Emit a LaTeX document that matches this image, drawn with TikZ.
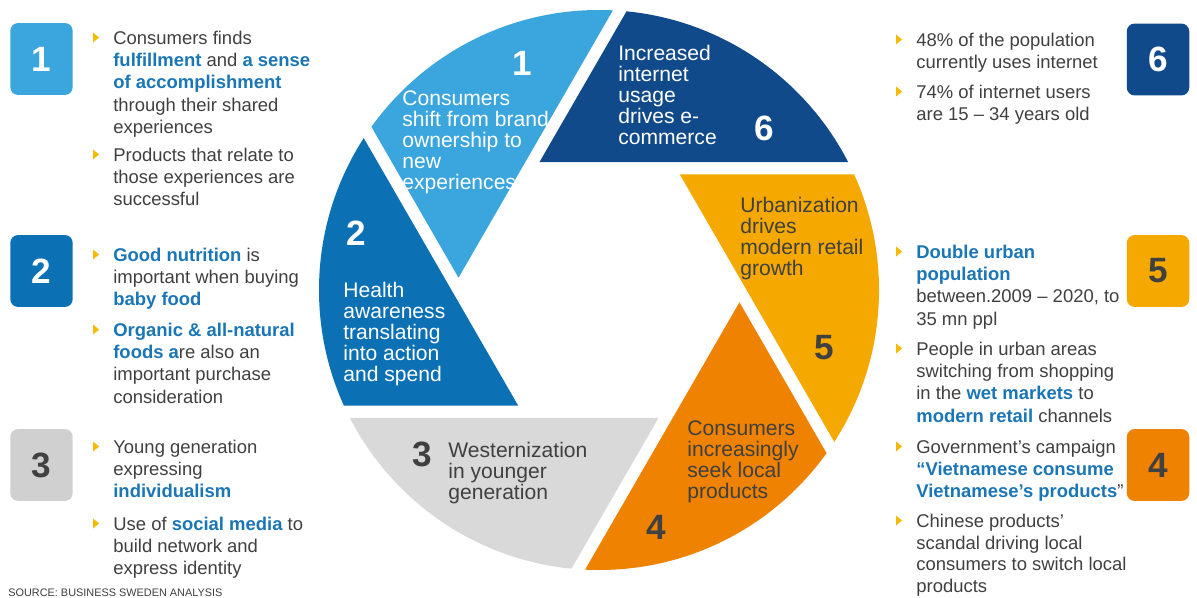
\documentclass[tikz,border=0pt]{standalone}
\usepackage{fontspec}
\setmainfont{Liberation Sans}
\usepackage{tikz}
\definecolor{skyblue}{RGB}{58,166,221}
\definecolor{midblue}{RGB}{12,112,181}
\definecolor{navyblue}{RGB}{16,74,139}
\definecolor{sunyellow}{RGB}{245,169,0}
\definecolor{deeporange}{RGB}{239,130,0}
\definecolor{paleGrey}{RGB}{217,217,217}
\definecolor{boxgrey}{RGB}{208,208,208}
\definecolor{txtgrey}{RGB}{64,64,64}
\definecolor{hiblue}{RGB}{27,118,181}
\definecolor{tickyellow}{RGB}{247,185,0}
\newcommand{\hlt}[1]{\textbf{\textcolor{hiblue}{#1}}}

\begin{document}
\begin{tikzpicture}[x=0.02cm,y=-0.02cm,
	numbox/.style={fill=#1, rounded corners=0.16cm, minimum width=1.25cm, minimum height=1.44cm, inner sep=0pt, text=white, font=\fontsize{20}{20}\selectfont\bfseries},
	btxt/.style={anchor=north west, align=left, inner sep=0pt, text=txtgrey, font=\fontsize{10.5}{12.6}\selectfont},
	wtxt/.style={anchor=north west, align=left, inner sep=0pt, font=\fontsize{12}{12}\selectfont},
	wnum/.style={inner sep=0pt, font=\fontsize{20}{20}\selectfont\bfseries}]
	\useasboundingbox (0,0) rectangle (1197,598);
	\fill[white] (0,0) rectangle (1197,598);
	% shutter blades
	\begin{scope}[shift={(599,290)}, y=0.02cm]
		\clip (0,0) circle (280);
		\foreach \a/\c in {115/navyblue, 55/sunyellow, -5/deeporange, -65/paleGrey, -125/midblue, 175/skyblue}
			\fill[\c] (\a:141) -- +({\a-115}:700) -- +({\a-55}:700) -- cycle;
	\end{scope}
	\node[wtxt, text=white] (w1) at (402,90) {Consumers\\ shift from brand\\ ownership to\\ new\\ experiences};
	\node[wnum, text=white] (n1) at (522,63) {1};
	\node[wtxt, text=white] (w2) at (343,282) {Health\\ awareness\\ translating\\ into action\\ and spend};
	\node[wnum, text=white] (n2) at (356,233) {2};
	\node[wtxt, text=txtgrey] (w3) at (448,442) {Westernization\\ in younger\\ generation};
	\node[wnum, text=txtgrey] (n3) at (422,454) {3};
	\node[wtxt, text=txtgrey] (w4) at (687,420) {Consumers\\ increasingly\\ seek local\\ products};
	\node[wnum, text=txtgrey] (n4) at (656,527) {4};
	\node[wtxt, text=txtgrey] (w5) at (740,197) {Urbanization\\ drives\\ modern retail\\ growth};
	\node[wnum, text=txtgrey] (n5) at (824,348) {5};
	\node[wtxt, text=white] (w6) at (618,45) {Increased\\ internet\\ usage\\ drives e-\\ commerce};
	\node[wnum, text=white] (n6) at (764,128) {6};
	% number boxes
	\node[numbox=skyblue] (b1) at (41.5,59) {1};
	\node[numbox=midblue] (b2) at (41.5,271) {2};
	\node[numbox=boxgrey, text=txtgrey] (b3) at (41.5,465) {3};
	\node[numbox=navyblue] (b6) at (1158,59.5) {6};
	\node[numbox=sunyellow, text=txtgrey] (b5) at (1158,271) {5};
	\node[numbox=deeporange, text=txtgrey] (b4) at (1158,465) {4};
	% bullet texts
	\node[btxt] (t1a) at (113,31) {Consumers finds\\ \hlt{fulfillment} and \hlt{a sense}\\ \hlt{of accomplishment}\\ through their shared\\ experiences};
	\node[btxt] (t1b) at (113,148) {Products that relate to\\ those experiences are\\ successful};
	\node[btxt] (t2a) at (113,248) {\hlt{Good nutrition} is\\ important when buying\\ \hlt{baby food}};
	\node[btxt] (t2b) at (113,323) {\hlt{Organic \& all-natural}\\ \hlt{foods a}re also an\\ important purchase\\ consideration};
	\node[btxt] (t3a) at (113,440) {Young generation\\ expressing\\ \hlt{individualism}};
	\node[btxt] (t3b) at (113,517) {Use of \hlt{social media} to\\ build network and\\ express identity};
	\node[btxt] (t6a) at (916,33) {48\% of the population\\ currently uses internet};
	\node[btxt] (t6b) at (916,85) {74\% of internet users\\ are 15 -- 34 years old};
	\node[btxt] (t5a) at (916,245) {\hlt{Double urban}\\ \hlt{population}\\ between.2009 -- 2020, to\\ 35 mn ppl};
	\node[btxt] (t5b) at (916,342) {People in urban areas\\ switching from shopping\\ in the \hlt{wet markets} to\\ \hlt{modern retail} channels};
	\node[btxt] (t4a) at (916,440) {Government's campaign\\ \hlt{“Vietnamese consume}\\ \hlt{Vietnamese's products}”};
	\node[btxt, font=\fontsize{10.5}{12.2}\selectfont] (t4b) at (916,514) {Chinese products'\\ scandal driving local\\ consumers to switch local\\ products};
	\foreach \t in {t1a,t1b,t2a,t2b,t3a,t3b,t6a,t6b,t5a,t5b,t4a,t4b}
		\fill[tickyellow] ([shift={(-20,1.5)}]\t.north west) -- ++(0,10) -- ++(6,-5) -- cycle;
	\node[anchor=north west, inner sep=0pt, text=txtgrey, font=\fontsize{6.2}{6.2}\selectfont] (src) at (8,589) {SOURCE: BUSINESS SWEDEN ANALYSIS};
\end{tikzpicture}
\end{document}
